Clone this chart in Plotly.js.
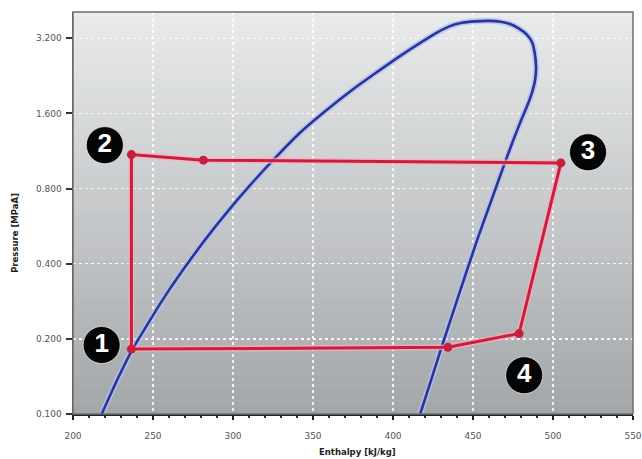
<!DOCTYPE html>
<html>
<head>
<meta charset="utf-8">
<script src="https://cdn.plot.ly/plotly-3.0.1.min.js"></script>
<style>
  html, body { margin: 0; padding: 0; background: #ffffff; }
  #chart { width: 642px; height: 459px; }
</style>
</head>
<body>
<div id="chart"></div>
<script>
// ---- Data ----
// Saturation dome (enthalpy kJ/kg, pressure MPaA)
const domeH = [217.93, 227.58, 236.92, 246.26, 255.92, 268.68, 282.38, 297.33, 310.71, 325.03, 341.53, 358.35, 374.22, 389.79, 405.04, 417.50, 427.77, 435.25, 443.03, 451.13, 459.84, 467.32, 473.54, 478.52, 483.51, 486.93, 488.48, 489.42, 488.79, 486.93, 484.00, 480.08, 475.16, 469.80, 461.52, 452.55, 440.04, 430.39, 423.79, 417.00];
const domeP = [0.1000, 0.1368, 0.1804, 0.2271, 0.2860, 0.3771, 0.4972, 0.6556, 0.8255, 1.0395, 1.3333, 1.6482, 1.9818, 2.339, 2.736, 3.084, 3.382, 3.574, 3.692, 3.743, 3.760, 3.726, 3.641, 3.509, 3.320, 3.084, 2.813, 2.449, 2.173, 1.945, 1.726, 1.503, 1.250, 1.011, 0.7189, 0.4972, 0.2860, 0.1855, 0.1368, 0.1000];

// Refrigeration cycle path
const cycleH = [236.5, 236.5, 281.5, 504.9, 478.8, 434.3, 236.5];
const cycleP = [0.182, 1.095, 1.040, 1.014, 0.210, 0.185, 0.182];

// Cycle state markers
const markerH = [236.5, 236.5, 281.5, 504.9, 478.8, 434.3];
const markerP = [0.182, 1.095, 1.040, 1.014, 0.210, 0.185];

// Numbered state labels
const labelText = ["1", "2", "3", "4"];
const labelH = [217.9, 219.9, 521.9, 482.0];
const labelP = [0.189, 1.194, 1.119, 0.143];

// Axis ticks
const xTicks = [200, 250, 300, 350, 400, 450, 500, 550];
const yTicks = [0.1, 0.2, 0.4, 0.8, 1.6, 3.2];
const yTickText = ["0.100", "0.200", "0.400", "0.800", "1.600", "3.200"];

// ---- Background gradient bands (style only) ----
const bands = 60;
const gradTop = [232, 234, 235], gradBot = [164, 167, 170];
const shapes = [];
for (let i = 0; i < bands; i++) {
  const t = i / (bands - 1);
  const c = gradTop.map((v, k) => Math.round(v + (gradBot[k] - v) * t));
  shapes.push({
    type: 'rect', xref: 'paper', yref: 'paper', layer: 'below',
    x0: 0, x1: 1, y0: 1 - (i + 1) / bands, y1: 1 - i / bands + 0.001,
    fillcolor: `rgb(${c[0]},${c[1]},${c[2]})`, line: { width: 0 }
  });
}
shapes.push({
  type: 'rect', xref: 'paper', yref: 'paper', layer: 'above',
  x0: 0, x1: 1, y0: 0, y1: 1, line: { color: '#6d6f72', width: 1.5 }, fillcolor: 'rgba(0,0,0,0)'
});

const traces = [
  { x: domeH, y: domeP, mode: 'lines', hoverinfo: 'skip', showlegend: false,
    line: { color: 'rgba(175,190,255,0.75)', width: 6, shape: 'spline', smoothing: 0.6 } },
  { x: domeH, y: domeP, mode: 'lines', showlegend: false,
    line: { color: '#2b368c', width: 2.6, shape: 'spline', smoothing: 0.6 } },
  { x: cycleH, y: cycleP, mode: 'lines', hoverinfo: 'skip', showlegend: false,
    line: { color: 'rgba(255,170,185,0.7)', width: 6 } },
  { x: cycleH, y: cycleP, mode: 'lines', showlegend: false,
    line: { color: '#c91f3f', width: 3 } },
  { x: markerH, y: markerP, mode: 'markers', showlegend: false,
    marker: { color: '#c91f3f', size: 9 } },
  { x: labelH, y: labelP, text: labelText, mode: 'markers+text', showlegend: false,
    textposition: 'middle center', cliponaxis: false,
    marker: { color: '#050505', size: 37, line: { color: 'rgba(255,255,255,0.6)', width: 1 } },
    textfont: { family: 'Liberation Sans, Arial, sans-serif', size: 26, color: '#ffffff', weight: 'bold' } }
];

const layout = {
  width: 642, height: 459,
  margin: { l: 73, r: 9, t: 12, b: 45 },
  paper_bgcolor: '#ffffff',
  plot_bgcolor: '#cfd1d3',
  shapes: shapes,
  font: { family: 'DejaVu Sans, sans-serif', color: '#444' },
  annotations: [
    { text: 'Enthalpy [kJ/kg]', xref: 'paper', yref: 'paper', x: 0.508, y: -0.095,
      xanchor: 'center', yanchor: 'middle', showarrow: false,
      font: { family: 'DejaVu Sans, sans-serif', size: 8.5, color: '#222', weight: 'bold' } },
    { text: 'Pressure [MPaA]', xref: 'paper', yref: 'paper', x: -0.104, y: 0.45,
      xanchor: 'center', yanchor: 'middle', showarrow: false, textangle: -90,
      font: { family: 'DejaVu Sans, sans-serif', size: 8.5, color: '#222', weight: 'bold' } }
  ],
  xaxis: {
    range: [200, 550], tickvals: xTicks, ticktext: xTicks.map(String),
    ticks: 'outside', ticklen: 4, tickwidth: 1.5, tickcolor: '#222',
    showline: true, linecolor: '#222', linewidth: 2,
    showgrid: true, gridcolor: 'rgba(255,255,255,0.85)', gridwidth: 1.5, griddash: 'dot',
    zeroline: false, ticklabelstandoff: 8,
    minor: { dtick: 10, ticks: 'outside', ticklen: 2, tickcolor: '#333', showgrid: false },
    tickfont: { size: 9, color: '#555' }
  },
  yaxis: {
    type: 'log', range: [-1, Math.log10(4.08)],
    tickvals: yTicks, ticktext: yTickText,
    ticks: 'outside', ticklen: 6, tickwidth: 2, tickcolor: '#333',
    showline: true, linecolor: '#555', linewidth: 1.5,
    showgrid: true, gridcolor: 'rgba(255,255,255,0.85)', gridwidth: 1.5, griddash: 'dot',
    zeroline: false, ticklabelstandoff: 2,
    tickfont: { size: 9, color: '#555' }
  }
};

Plotly.newPlot('chart', traces, layout, { displayModeBar: false, staticPlot: true });
</script>
</body>
</html>
